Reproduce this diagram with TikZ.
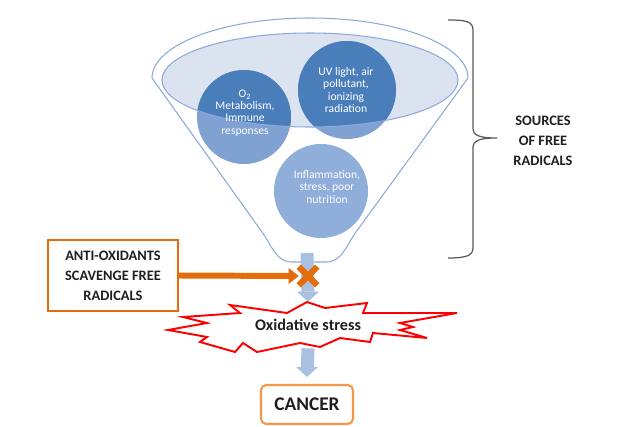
\documentclass[tikz,border=0pt]{standalone}
\usepackage{fontspec}
\setmainfont{Carlito}
\definecolor{funnelblue}{HTML}{8EAADB}
\definecolor{ringfill}{HTML}{DCE3F0}
\definecolor{srcdark}{HTML}{4A7EBB}
\definecolor{srclight}{HTML}{7FA2D2}
\definecolor{srcpale}{HTML}{8FAEDA}
\definecolor{flowblue}{HTML}{A9C0E0}
\definecolor{antiorange}{HTML}{E46C0A}
\definecolor{canorange}{HTML}{F79646}
\definecolor{bracegray}{HTML}{595959}
\definecolor{labelink}{HTML}{1F1F1F}

\begin{document}
\begin{tikzpicture}[x=0.02cm,y=-0.02cm]
\tikzstyle{every node}+=[inner sep=0pt]
\tikzstyle{srctext}=[text=white,align=center,font=\fontsize{6.6}{6.9}\selectfont]
\tikzstyle{caps}=[text=labelink,align=center,font=\bfseries\fontsize{8.2}{11.3}\selectfont]
\tikzstyle{flow}=[flowblue,line width=0.26cm]
\useasboundingbox (0,0) rectangle (635,426);
% funnel
\draw [funnelblue,fill=white,line width=0.6pt] (152,78) -- (262,232) .. controls (272,246) and (276,262) .. (292,262) -- (326,262) .. controls (342,262) and (346,246) .. (356,232) -- (468,78) arc [start angle=0,end angle=-180,x radius=158,y radius=60];
\fill [ringfill] (310,80) ellipse [x radius=148,y radius=47];
\fill [srclight] (244,117) circle [radius=47];
\fill [srclight] (347,90) circle [radius=49];
\fill [srcpale] (321,191) circle [radius=47];
\begin{scope}
\clip (310,80) ellipse [x radius=148,y radius=47];
\fill [srcdark] (244,117) circle [radius=47];
\fill [srcdark] (347,90) circle [radius=49];
\end{scope}
\draw [funnelblue,line width=0.6pt] (310,80) ellipse [x radius=148,y radius=47];
\node [srctext] (metab) at (245,113) {O\textsubscript{2}\\Metabolism,\\Immune\\responses};
\node [srctext] (uv) at (346,90) {UV light, air\\pollutant,\\ionizing\\radiation};
\node [srctext] (inflam) at (327,187) {Inflammation,\\stress, poor\\nutrition};
\coordinate (funnelout) at (307,253);
% brace and its label
\draw [bracegray,line width=0.7pt] (448,20) .. controls (465,20) and (473,21) .. (473,30) -- (473,128) .. controls (473,135) and (478,138) .. (497,138) .. controls (478,138) and (473,141) .. (473,148) -- (473,248) .. controls (473,256) and (465,258) .. (448,258);
\node [caps] (sources) at (543,141) {SOURCES\\OF FREE\\RADICALS};
% lower chain
\draw [red,fill=white,line width=1.1pt,line join=miter] (168,330) -- (207,323) -- (183,317) -- (240,313) -- (230,305) -- (287,313) -- (307,302) -- (325,308) -- (367,303) -- (363,313) -- (457,313) -- (400,323) -- (413,327) -- (400,330) -- (427,338) -- (373,333) -- (370,342) -- (340,338) -- (320,347) -- (300,343) -- (257,352) -- (243,343) -- (235,352) -- (200,342) -- (207,337) -- cycle;
\node [text=labelink,font=\bfseries\fontsize{9.2}{11}\selectfont,minimum height=0.92cm] (stress) at (308,325) {Oxidative stress};
\node [caps,draw=antiorange,line width=1.3pt,minimum width=2.6cm,minimum height=1.42cm] (anti) at (113,275.5) {ANTI-OXIDANTS\\SCAVENGE FREE\\RADICALS};
\node [text=labelink,font=\bfseries\fontsize{11}{13}\selectfont,draw=canorange,line width=1.2pt,rounded corners=3pt,minimum width=1.84cm,minimum height=0.78cm] (cancer) at (307,404.5) {CANCER};
\node [minimum size=0.36cm] (block) at (308,276) {};
\draw [flow,shorten >=0.2cm] (funnelout) -- (stress.north);
\fill [flowblue] (stress.north) -- ++(-11,-10) -- ++(22,0) -- cycle;
\draw [flow,shorten >=0.34cm] (stress.south) -- (cancer.north);
\fill [flowblue] (cancer.north) ++(0,-7) -- ++(-11,-10) -- ++(22,0) -- cycle;
\draw [antiorange,line width=3.4pt,shorten >=0.18cm] (anti.east) -- (block.west);
\fill [antiorange] (block.west) -- ++(-10,-8) -- ++(0,16) -- cycle;
\draw [antiorange,line width=3.6pt] (block.north west) -- (block.south east);
\draw [antiorange,line width=3.6pt] (block.south west) -- (block.north east);
\end{tikzpicture}
\end{document}
